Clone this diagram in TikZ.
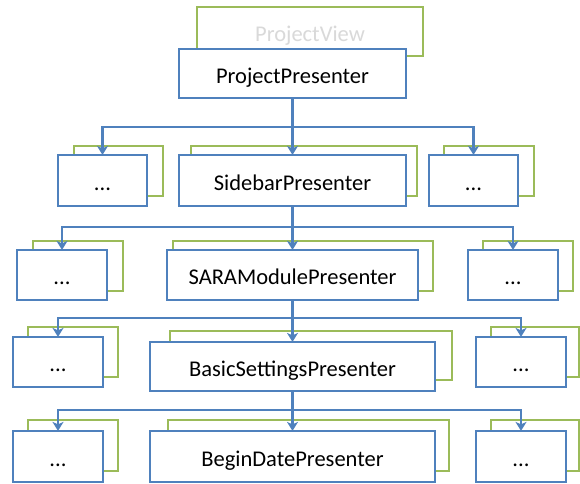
\documentclass[tikz,border=0pt]{standalone}
\usepackage{fontspec}
\setmainfont{Carlito}
\usetikzlibrary{arrows.meta}
\definecolor{boxblue}{HTML}{4F81BD}
\definecolor{boxgreen}{HTML}{9BBB59}
\definecolor{ghosttext}{HTML}{D9D9D9}
\tikzset{
  label font/.style={font=\fontsize{22.5}{26}\selectfont, text height=19pt, text depth=0pt},
  backbox/.style={draw=boxgreen, line width=2.2pt, fill=white, inner sep=0pt, label font},
  frontbox/.style={draw=boxblue, line width=2.2pt, fill=white, inner sep=0pt, label font},
  link/.style={draw=boxblue, line width=2.8pt},
  linkarrow/.style={link, -{Stealth[length=9pt, width=11pt, inset=2.5pt]}, shorten >=-1pt},
}
\begin{document}
\begin{tikzpicture}[x=1pt, y=-1pt]
\useasboundingbox (0,0) rectangle (580,483);

% top level
\node[backbox, minimum width=226pt, minimum height=49pt, text=ghosttext] (pv) at (310,31.5) {ProjectView};
\node[frontbox, minimum width=227pt, minimum height=49pt] (pp) at (292.5,73.5) {ProjectPresenter};

% second level
\node[backbox, minimum width=89pt, minimum height=50pt] (l2g) at (118.5,171) {};
\node[frontbox, minimum width=89pt, minimum height=51pt] (l2) at (102.5,180.5) {...};
\node[backbox, minimum width=226pt, minimum height=50pt] (sbg) at (304,171) {};
\node[frontbox, minimum width=227pt, minimum height=51pt] (sb) at (292.5,180.5) {SidebarPresenter};
\node[backbox, minimum width=90pt, minimum height=50pt] (r2g) at (489,171) {};
\node[frontbox, minimum width=89pt, minimum height=51pt] (r2) at (473.5,180.5) {...};

% third level
\node[backbox, minimum width=90pt, minimum height=50pt] (l3g) at (78,266) {};
\node[frontbox, minimum width=90pt, minimum height=50pt] (l3) at (62,275) {...};
\node[backbox, minimum width=260pt, minimum height=50pt] (smg) at (303,266) {};
\node[frontbox, minimum width=251pt, minimum height=50pt] (sm) at (292.5,275) {SARAModulePresenter};
\node[backbox, minimum width=90pt, minimum height=50pt] (r3g) at (528,266) {};
\node[frontbox, minimum width=90pt, minimum height=50pt] (r3) at (513,275) {...};

% fourth level
\node[backbox, minimum width=90pt, minimum height=50pt] (l4g) at (73,352) {};
\node[frontbox, minimum width=90pt, minimum height=50pt] (l4) at (58,362) {...};
\node[backbox, minimum width=282pt, minimum height=49pt] (bsg) at (311,355.5) {};
\node[frontbox, minimum width=285pt, minimum height=49pt] (bs) at (292.5,366.5) {BasicSettingsPresenter};
\node[backbox, minimum width=88pt, minimum height=50pt] (r4g) at (535,352) {};
\node[frontbox, minimum width=90pt, minimum height=50pt] (r4) at (521,362) {...};

% fifth level
\node[backbox, minimum width=90pt, minimum height=51pt] (l5g) at (73,445.5) {};
\node[frontbox, minimum width=90pt, minimum height=51pt] (l5) at (58,456.5) {...};
\node[backbox, minimum width=281pt, minimum height=51pt] (bdg) at (308.5,445.5) {};
\node[frontbox, minimum width=285pt, minimum height=51pt] (bd) at (292.5,456.5) {BeginDatePresenter};
\node[backbox, minimum width=88pt, minimum height=51pt] (r5g) at (535,445.5) {};
\node[frontbox, minimum width=90pt, minimum height=51pt] (r5) at (521,456.5) {...};

% branch points on each trunk
\coordinate (j1) at (292.5,127);
\coordinate (j2) at (292.5,227);
\coordinate (j3) at (292.5,318);
\coordinate (j4) at (292.5,410);

% connectors
\draw[linkarrow] (pp.south) -- (sb.north);
\draw[linkarrow] (j1) -| (l2.north);
\draw[linkarrow] (j1) -| (r2.north);

\draw[linkarrow] (sb.south) -- (sm.north);
\draw[linkarrow] (j2) -| (l3.north);
\draw[linkarrow] (j2) -| (r3.north);

\draw[linkarrow] (sm.south) -- (bs.north);
\draw[linkarrow] (j3) -| (l4.north);
\draw[linkarrow] (j3) -| (r4.north);

\draw[linkarrow] (bs.south) -- (bd.north);
\draw[linkarrow] (j4) -| (l5.north);
\draw[linkarrow] (j4) -| (r5.north);
\end{tikzpicture}
\end{document}
